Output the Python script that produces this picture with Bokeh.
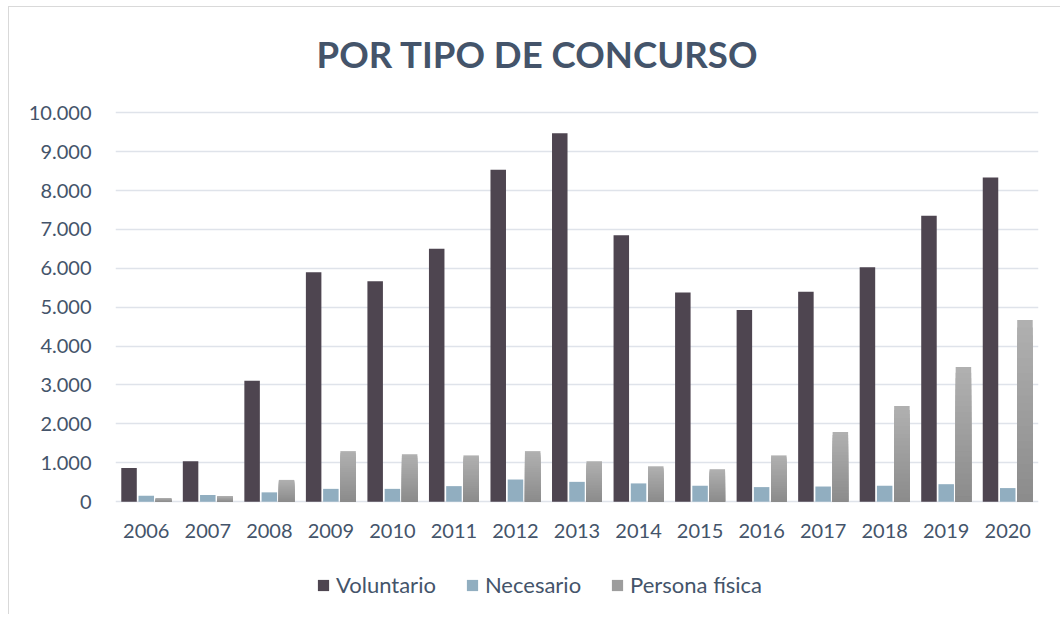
from bokeh.plotting import figure
from bokeh.models import FactorRange, Range1d, FixedTicker, Legend, LegendItem
from bokeh.transform import dodge
from bokeh.core.properties import value
from bokeh.embed import file_html
from bokeh.resources import INLINE

# ---- data ----
years = ["2006", "2007", "2008", "2009", "2010", "2011", "2012", "2013",
         "2014", "2015", "2016", "2017", "2018", "2019", "2020"]
voluntario = [865, 1040, 3110, 5900, 5670, 6500, 8535, 9470, 6850, 5375, 4925, 5400, 6030, 7350, 8335]
necesario = [150, 170, 240, 330, 330, 400, 570, 510, 470, 410, 375, 390, 410, 450, 350]
persona_fisica = [95, 145, 560, 1300, 1220, 1190, 1300, 1040, 910, 835, 1190, 1790, 2460, 3460, 4670]
series_names = ["Voluntario", "Necesario", "Persona física"]
y_ticks = [0, 1000, 2000, 3000, 4000, 5000, 6000, 7000, 8000, 9000, 10000]
y_tick_labels = ["0", "1.000", "2.000", "3.000", "4.000", "5.000", "6.000",
                 "7.000", "8.000", "9.000", "10.000"]
title_text = "POR TIPO DE CONCURSO"

# ---- styles ----
FONT = "Lato"
TXT = "#44546A"
C_VOL = "#4E4550"
C_NEC = "#91AEC0"
GRAD_TOP = (0xB0, 0xB0, 0xB0)
GRAD_BOT = (0x8C, 0x8C, 0x8C)

p = figure(width=1052, height=608, x_range=FactorRange(*years, range_padding=0),
           y_range=Range1d(-2643, 10828), output_backend="svg", toolbar_location=None,
           min_border_left=106, min_border_right=23, min_border_top=73, min_border_bottom=11)
p.styles = {"border-left": "1px solid #D9D9D9", "border-top": "1px solid #D9D9D9",
            "margin-left": "8px", "margin-top": "6px"}

p.title.text = title_text
p.title.align = "left"
p.title.text_font = FONT
p.title.text_font_size = "36.6px"
p.title.text_font_style = "bold"
p.title.text_color = TXT
p.title.offset = 201
p.title.standoff = 10

p.outline_line_color = None
p.background_fill_color = "white"
p.border_fill_color = "white"

p.xgrid.grid_line_color = None
p.ygrid.grid_line_color = "#DFE3EA"
p.ygrid.grid_line_width = 1.4
p.ygrid.ticker = FixedTicker(ticks=y_ticks)

p.yaxis.ticker = FixedTicker(ticks=y_ticks)
p.yaxis.major_label_overrides = {t: l for t, l in zip(y_ticks, y_tick_labels)}
p.yaxis.axis_line_color = None
p.yaxis.major_tick_line_color = None
p.yaxis.minor_tick_line_color = None
p.yaxis.major_label_standoff = 18
p.yaxis.major_label_text_font = FONT
p.yaxis.major_label_text_font_size = "20px"
p.yaxis.major_label_text_color = TXT

p.xaxis.visible = False

# year labels just under the zero line
p.text(x=years, y=[0] * len(years), text=years, y_offset=29,
       text_align="center", text_baseline="middle",
       text_font=value(FONT), text_font_size="20px", text_color=TXT)

W = 0.252
r_vol = p.vbar(x=dodge("x", -0.28, range=p.x_range), top="top", width=W,
               source=dict(x=years, top=voluntario), fill_color=C_VOL, line_color=None)
r_nec = p.vbar(x=dodge("x", 0.0, range=p.x_range), top="top", width=W,
               source=dict(x=years, top=necesario), fill_color=C_NEC, line_color=None)

# Persona física: vertical gradient (light at top, dark at bottom) per bar
N = 24
r_per = None
for k in range(N):
    t = k / (N - 1)
    col = "#%02X%02X%02X" % tuple(round(a + (b - a) * t) for a, b in zip(GRAD_TOP, GRAD_BOT))
    frac = (N - k) / N
    r = p.vbar(x=dodge("x", 0.28, range=p.x_range), top="top", width=W,
               source=dict(x=years, top=[v * frac for v in persona_fisica]),
               fill_color=col, line_color=None)
    if k == N // 2:
        r_per = r

legend = Legend(items=[LegendItem(label=series_names[0], renderers=[r_vol]),
                       LegendItem(label=series_names[1], renderers=[r_nec]),
                       LegendItem(label=series_names[2], renderers=[r_per])],
                orientation="horizontal", location=(201, 6),
                label_text_font=FONT, label_text_font_size="22px", label_text_color=TXT,
                glyph_width=14, glyph_height=14, label_standoff=6, spacing=29,
                padding=0, margin=0, border_line_color=None, background_fill_alpha=0,
                label_height=24)
p.add_layout(legend, "center")

open("out.html", "w").write(file_html(p, INLINE))
